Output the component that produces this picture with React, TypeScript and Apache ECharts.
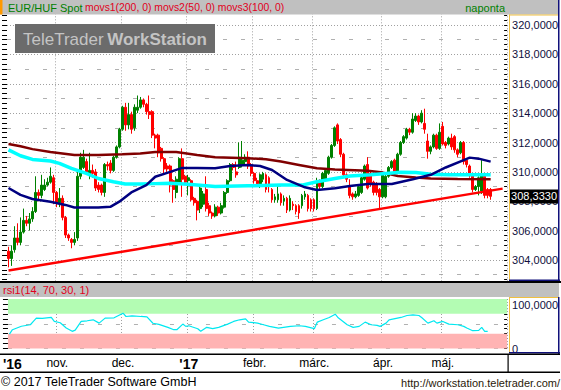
import React, { useEffect, useRef } from 'react';
import * as echarts from 'echarts';

// ---------- data ----------
const startDate = '2016-10-10';
const dayCount = 167;

const monthLabels: [string, string, boolean][] = [
  ['2016-10-11', "'16", true],
  ['2016-11-01', 'nov.', false],
  ['2016-12-01', 'dec.', false],
  ['2017-01-02', "'17", true],
  ['2017-02-01', 'febr.', false],
  ['2017-03-01', 'márc.', false],
  ['2017-04-03', 'ápr.', false],
  ['2017-05-01', 'máj.', false],
];
const gridLineDates = ['2016-11-01', '2016-12-01', '2017-01-02', '2017-02-01', '2017-03-01', '2017-04-03', '2017-05-01'];

// [open, close, low, high]
const candles: number[][] = [
  [304.6, 304.1, 303.5, 304.9], [304.1, 304.6, 303.6, 305.0], [304.7, 305.5, 304.5, 306.3], [305.5, 305.2, 305.0, 306.5],
  [305.2, 305.9, 305.0, 306.9], [305.9, 306.7, 305.8, 307.5], [306.7, 306.5, 306.3, 307.0], [306.5, 306.8, 306.0, 307.2],
  [306.8, 307.3, 306.6, 307.6], [307.3, 308.6, 307.2, 309.7], [308.6, 308.4, 308.0, 308.8], [308.4, 309.1, 308.2, 309.8],
  [308.8, 309.1, 308.7, 309.5], [309.1, 309.3, 309.0, 309.6], [309.3, 309.7, 309.2, 310.3], [309.6, 308.6, 307.8, 309.8],
  [308.6, 307.9, 307.6, 308.7], [307.9, 308.2, 307.6, 308.9], [308.2, 306.9, 306.7, 308.4], [306.9, 305.7, 305.5, 307.0],
  [305.7, 305.5, 305.3, 305.8], [305.4, 305.2, 304.8, 305.5], [305.2, 305.4, 305.0, 305.9], [305.5, 309.7, 305.3, 310.0],
  [309.7, 311.0, 309.5, 311.3], [310.3, 311.0, 310.2, 311.5], [310.7, 310.0, 309.8, 310.9], [309.8, 310.1, 309.5, 311.3],
  [310.1, 309.9, 309.6, 310.5], [310.0, 308.9, 308.7, 310.2], [309.1, 308.8, 308.6, 309.3], [309.1, 308.6, 308.4, 309.2],
  [308.6, 310.5, 308.3, 310.6], [310.5, 310.4, 310.1, 310.7], [310.6, 310.1, 309.9, 310.8], [310.1, 311.0, 310.0, 311.1],
  [311.0, 311.7, 310.9, 311.8], [311.7, 312.9, 311.6, 313.0], [312.9, 314.4, 312.8, 314.5], [314.4, 313.2, 312.8, 314.7],
  [313.2, 313.9, 312.9, 314.7], [313.9, 312.9, 312.6, 314.1], [313.0, 314.4, 312.8, 314.6], [314.2, 314.4, 314.0, 315.2],
  [314.4, 314.9, 314.3, 315.1], [314.9, 314.6, 314.4, 315.0], [314.6, 314.1, 313.9, 314.7], [314.1, 313.9, 313.6, 315.2],
  [314.1, 312.5, 312.3, 314.2], [312.5, 312.3, 311.6, 312.6], [312.5, 311.3, 311.0, 312.6], [311.6, 310.9, 310.7, 311.7],
  [310.9, 310.2, 309.9, 311.0], [310.4, 310.2, 310.0, 310.6], [310.4, 309.1, 308.6, 310.5], [309.4, 308.8, 307.9, 309.5],
  [308.6, 309.5, 308.2, 309.7], [309.3, 310.9, 309.2, 311.0], [310.9, 309.5, 308.3, 311.6], [309.7, 309.3, 309.1, 309.8],
  [309.4, 309.6, 308.4, 309.8], [309.4, 308.1, 308.0, 309.5], [308.2, 307.9, 307.7, 308.3], [308.0, 307.4, 306.7, 308.1],
  [307.5, 308.9, 307.2, 309.0], [307.8, 308.5, 307.6, 308.7], [308.8, 307.5, 307.3, 309.7], [307.7, 307.2, 307.0, 307.9],
  [307.2, 307.0, 306.8, 307.3], [307.0, 307.6, 306.9, 307.8], [307.6, 307.2, 307.0, 307.7], [307.2, 307.7, 307.1, 307.9],
  [307.6, 308.6, 307.5, 308.7], [308.6, 309.4, 308.5, 309.5], [309.4, 310.5, 309.3, 310.6], [310.5, 310.3, 310.1, 310.6],
  [310.0, 309.8, 309.6, 310.7], [310.3, 311.0, 310.2, 312.0], [310.5, 310.8, 310.3, 312.1], [310.7, 311.0, 310.5, 311.2],
  [311.0, 310.4, 310.2, 311.4], [310.5, 309.9, 309.7, 310.6], [309.9, 309.4, 309.2, 310.0], [309.4, 309.2, 309.0, 309.6],
  [309.2, 309.8, 308.9, 309.9], [309.5, 309.9, 309.3, 310.0], [309.8, 308.8, 308.6, 309.9], [309.6, 309.0, 308.6, 309.7],
  [308.8, 308.1, 307.9, 308.9], [308.1, 308.3, 307.9, 308.5], [308.1, 308.5, 307.9, 309.0], [308.5, 307.9, 307.7, 308.6],
  [308.0, 308.2, 307.7, 308.4], [308.2, 307.4, 307.2, 308.3], [307.4, 308.2, 307.3, 308.4], [307.8, 307.7, 307.4, 308.0],
  [307.7, 307.3, 307.1, 307.8], [307.7, 307.2, 306.8, 307.8], [307.7, 308.4, 307.5, 308.5], [308.3, 308.5, 308.1, 308.7],
  [308.4, 307.5, 307.3, 308.5], [308.1, 307.5, 307.3, 308.2], [308.1, 307.5, 307.3, 308.2], [307.5, 309.4, 307.4, 309.6],
  [309.4, 309.0, 308.8, 309.5], [309.0, 309.9, 308.9, 310.0], [309.5, 310.1, 309.4, 310.2], [309.9, 311.0, 309.8, 311.1],
  [311.0, 311.8, 310.9, 311.9], [311.8, 313.0, 311.7, 313.1], [313.2, 312.1, 311.9, 313.3], [312.2, 311.2, 311.0, 312.3],
  [311.2, 309.8, 309.6, 311.3], [309.8, 309.5, 309.3, 309.9], [309.0, 308.4, 308.2, 309.5], [308.5, 308.3, 308.1, 308.6],
  [308.3, 308.5, 308.2, 308.7], [308.4, 309.0, 308.3, 309.1], [308.6, 309.6, 308.5, 309.7], [309.5, 310.4, 309.4, 310.5],
  [310.5, 308.9, 308.8, 311.0], [309.9, 309.2, 309.0, 310.0], [309.3, 308.6, 308.4, 309.4], [309.2, 308.6, 308.4, 309.3],
  [308.8, 308.3, 307.5, 308.9], [308.3, 309.9, 308.2, 310.0], [308.3, 309.7, 308.2, 309.8], [309.7, 310.3, 309.6, 310.4],
  [310.3, 310.7, 310.2, 310.8], [310.8, 310.0, 309.9, 310.9], [310.0, 311.2, 309.9, 311.3], [311.2, 312.0, 311.1, 312.1],
  [312.0, 312.4, 311.9, 312.5], [312.3, 312.9, 312.2, 313.0], [312.9, 312.7, 312.5, 313.0], [312.7, 313.6, 312.6, 314.0],
  [313.5, 313.8, 313.4, 314.0], [313.8, 313.4, 313.2, 313.9], [313.4, 314.0, 313.3, 314.2], [313.3, 312.9, 312.6, 314.3],
  [312.1, 311.4, 310.9, 312.6], [311.4, 311.7, 311.2, 311.8], [311.7, 312.5, 311.6, 312.6], [312.5, 311.6, 311.5, 312.6],
  [311.6, 312.7, 311.5, 313.3], [313.1, 311.9, 311.8, 313.4], [312.0, 311.8, 311.6, 312.1], [311.9, 312.3, 311.8, 312.4],
  [312.3, 311.7, 311.5, 312.6], [312.4, 311.5, 311.3, 312.5], [311.5, 311.2, 311.0, 311.6], [311.3, 312.0, 311.2, 312.1],
  [312.0, 310.7, 310.5, 312.1], [310.8, 310.5, 310.3, 310.9], [310.4, 309.8, 309.6, 310.5], [309.8, 308.8, 308.6, 309.9],
  [308.8, 309.0, 308.7, 309.1], [309.0, 309.6, 308.4, 309.7], [308.7, 309.8, 308.5, 310.8], [309.7, 308.4, 308.2, 309.8],
  [308.8, 308.4, 308.2, 308.9], [308.8, 308.333, 308.1, 308.9],
];

// moving averages as [day index, value]
const ma200: number[][] = [
  [0, 311.9], [4, 311.75], [8, 311.55], [14, 311.35], [22, 311.15], [30, 311.15], [38, 311.2], [44, 311.25],
  [49, 311.35], [56, 311.35], [63, 311.15], [69, 311.0], [80, 310.93], [86, 310.86], [91, 310.7], [97, 310.47],
  [103, 310.24], [109, 310.17], [120, 310.08], [125, 309.95], [130, 309.72], [136, 309.62], [141, 309.55], [150, 309.52], [161, 309.5],
];
const ma50: number[][] = [
  [0, 308.9], [4, 308.43], [8, 308.15], [14, 307.97], [19, 307.75], [22, 307.57], [30, 307.57], [34, 307.62],
  [37, 307.97], [41, 308.6], [46, 309.1], [49, 309.67], [54, 310.0], [58, 310.27], [63, 310.27], [69, 310.25],
  [74, 310.4], [80, 310.47], [84, 310.4], [88, 310.13], [93, 309.45], [99, 308.95], [103, 308.77], [109, 308.88],
  [114, 309.04], [120, 309.18], [128, 309.18], [135, 309.5], [141, 309.8], [146, 310.3], [152, 310.8], [154, 310.97],
  [157, 310.9], [161, 310.7],
];
const ma100: number[][] = [
  [0, 311.5], [4, 311.1], [8, 310.85], [14, 310.74], [17, 310.58], [21, 310.24], [26, 309.9], [30, 309.55],
  [35, 309.33], [39, 309.18], [44, 309.18], [49, 309.2], [54, 309.22], [60, 309.15], [63, 309.1], [69, 309.0],
  [80, 309.05], [91, 309.1], [98, 309.1], [103, 309.33], [109, 309.55], [114, 309.72], [121, 309.8], [131, 309.97],
  [136, 309.95], [141, 309.84], [147, 309.8], [161, 309.8],
];
const trendLine: number[][] = [[0, 303.28], [165, 308.86]];

const rsi: number[][] = [
  [0, 29], [1, 38], [4, 45], [7, 48], [8, 54.7], [9, 61.3], [11, 61], [14, 63], [15, 54.7], [17, 52], [19, 41.3],
  [21, 34.7], [22, 37], [24, 54.7], [26, 56], [28, 58], [30, 51.3], [32, 61.3], [35, 62], [38, 71.3], [39, 64.7],
  [41, 66], [44, 64.7], [46, 64], [48, 51], [50, 48.7], [53, 42.7], [55, 38], [56, 38], [58, 49.3], [59, 44.7],
  [60, 46], [63, 40], [64, 34.7], [66, 42.7], [68, 40], [70, 42.7], [73, 49.3], [75, 54.7], [77, 58], [79, 60],
  [80, 53.3], [83, 51.3], [85, 48], [87, 44.7], [90, 41.3], [94, 44.7], [97, 46], [99, 44.7], [102, 40], [103, 53.3],
  [105, 58], [107, 62.7], [109, 69.3], [110, 62], [113, 48], [115, 42.7], [117, 44.7], [119, 53.3], [121, 48],
  [123, 46.7], [124, 44.7], [126, 51.3], [127, 58], [131, 62.7], [133, 66.7], [135, 68], [137, 66.7], [138, 62],
  [140, 51.3], [142, 56], [143, 51.3], [145, 54.7], [147, 49.3], [150, 48], [152, 44.7], [153, 41.3], [155, 36],
  [157, 36.7], [158, 42.7], [159, 34.7], [160, 34.7],
];
const rsiLevels = { low: 30, high: 70 };
const priceAxis = { min: 302, max: 321, step: 2 };
const rsiAxis = { min: 0, max: 100, step: 50 };

// ---------- helpers ----------
const FONT = "'Liberation Sans', Arial, sans-serif";

function makeDates(start: string, n: number): string[] {
  const out: string[] = [];
  const d = new Date(start + 'T00:00:00Z');
  while (out.length < n) {
    const wd = d.getUTCDay();
    if (wd !== 0 && wd !== 6) out.push(d.toISOString().slice(0, 10));
    d.setUTCDate(d.getUTCDate() + 1);
  }
  return out;
}
const fmtPrice = (v: number) => v.toFixed(4).replace('.', ',');

function text(x: number, y: number, t: string, fill: string, font: string, align = 'left') {
  return {
    type: 'text', x, y, z: 101,
    style: { text: t, fill, font, align, verticalAlign: 'middle', textAlign: align, textVerticalAlign: 'middle' },
  };
}
function rect(x: number, y: number, w: number, h: number, fill: string, z = 100) {
  return { type: 'rect', z, shape: { x, y, width: w, height: h }, style: { fill } };
}

function buildOption() {
  const dates = makeDates(startDate, dayCount);
  const labelMap: Record<string, [string, boolean]> = {};
  monthLabels.forEach(([d, l, b]) => (labelMap[d] = [l, b]));
  const isGrid = (_i: number, v: string) => gridLineDates.includes(v);
  const isLabel = (_i: number, v: string) => v in labelMap;
  const lastClose = candles[candles.length - 1][1];
  const dotted = { color: '#a0a0a0', type: [1, 2], width: 1 };
  const yTop = 10.3125;
  const pxPerUnit = 14.6875;

  return {
    animation: false,
    backgroundColor: '#ffffff',
    textStyle: { fontFamily: FONT },
    grid: [
      { left: 7, right: 53, top: yTop, height: (priceAxis.max - priceAxis.min) * pxPerUnit },
      { left: 7, right: 53, top: 299, height: 49.5 },
      { left: 7, right: 53, top: yTop, height: (priceAxis.max - 303) * pxPerUnit },
    ],
    xAxis: [
      {
        type: 'category', gridIndex: 0, data: dates, boundaryGap: true,
        axisLine: { show: false }, axisTick: { show: false }, axisLabel: { show: false },
        splitLine: { show: true, interval: isGrid, lineStyle: dotted },
      },
      {
        type: 'category', gridIndex: 1, data: dates, boundaryGap: true,
        axisLine: { show: false }, axisTick: { show: false },
        axisLabel: {
          show: true, interval: isLabel, margin: 8,
          formatter: (v: string) => {
            const e = labelMap[v];
            if (!e) return '';
            return e[1] ? `{b|${e[0]}}` : `{n|${e[0]}}`;
          },
          rich: {
            b: { fontSize: 14, fontWeight: 'bold', color: '#000', fontFamily: FONT },
            n: { fontSize: 12, color: '#000', fontFamily: FONT },
          },
        },
        splitLine: { show: true, interval: isGrid, lineStyle: dotted },
      },
      { type: 'value', gridIndex: 2, show: false, min: 0, max: 1 },
    ],
    yAxis: [
      {
        type: 'value', gridIndex: 0, position: 'right', min: priceAxis.min, max: priceAxis.max, interval: priceAxis.step,
        axisLine: { show: false },
        axisTick: { show: true, inside: true, length: 3, lineStyle: { color: '#000' } },
        minorTick: { show: true, splitNumber: 6, length: 3, lineStyle: { color: '#000' } },
        axisLabel: {
          margin: 5, color: '#101040', fontSize: 11, fontFamily: FONT,
          formatter: (v: number) => (v <= priceAxis.min || v >= priceAxis.max ? '' : fmtPrice(v)),
        },
        splitLine: { show: true, lineStyle: dotted },
      },
      {
        type: 'value', gridIndex: 0, position: 'left', min: priceAxis.min, max: priceAxis.max, interval: priceAxis.step,
        axisLine: { show: false },
        axisTick: { show: true, length: 5, lineStyle: { color: '#000' } },
        minorTick: { show: true, splitNumber: 6, length: 5, lineStyle: { color: '#000' } },
        axisLabel: { show: false }, splitLine: { show: false },
      },
      {
        type: 'value', gridIndex: 1, position: 'right', min: rsiAxis.min, max: rsiAxis.max, interval: rsiAxis.step,
        axisLine: { show: false },
        axisTick: { show: true, inside: true, length: 3, lineStyle: { color: '#000' } },
        minorTick: { show: true, splitNumber: 5, length: 3, lineStyle: { color: '#000' } },
        axisLabel: {
          margin: 5, color: '#101040', fontSize: 11, fontFamily: FONT,
          verticalAlignMaxLabel: 'top',
          formatter: (v: number) => (v === rsiAxis.max ? fmtPrice(v) : v === rsiAxis.min ? '0' : ''),
        },
        splitLine: { show: true, lineStyle: { color: '#b0b0b0', type: [4, 14], width: 1 } },
      },
      {
        type: 'value', gridIndex: 1, position: 'left', min: rsiAxis.min, max: rsiAxis.max, interval: rsiAxis.step,
        axisLine: { show: false },
        axisTick: { show: true, length: 5, lineStyle: { color: '#000' } },
        minorTick: { show: true, splitNumber: 5, length: 5, lineStyle: { color: '#000' } },
        axisLabel: { show: false }, splitLine: { show: false },
      },
      {
        type: 'value', gridIndex: 2, min: 303, max: priceAxis.max, interval: 2,
        axisLine: { show: false }, axisTick: { show: false }, axisLabel: { show: false },
        splitLine: { show: true, lineStyle: { color: '#b0b0b0', type: [4, 14], width: 1 } },
      },
    ],
    series: [
      {
        type: 'candlestick', xAxisIndex: 0, yAxisIndex: 0, data: candles, barWidth: 2.4, clip: false, z: 2,
        itemStyle: { color: '#008000', color0: '#ff0000', borderColor: '#008000', borderColor0: '#ff0000', borderWidth: 1 },
        markLine: {
          silent: true, symbol: ['none', 'none'], z: 20,
          data: [{ yAxis: lastClose }],
          lineStyle: { color: 'rgba(0,0,0,0)', width: 0 },
          label: {
            show: true, position: 'end', distance: 2, formatter: fmtPrice(lastClose),
            color: '#ffffff', backgroundColor: '#000000', padding: [2, 2, 1, 2], fontSize: 11, fontFamily: FONT,
          },
        },
      },
      { type: 'line', xAxisIndex: 0, yAxisIndex: 0, data: ma200, showSymbol: false, z: 3, lineStyle: { color: '#800000', width: 2.5 } },
      { type: 'line', xAxisIndex: 0, yAxisIndex: 0, data: ma100, showSymbol: false, z: 3, lineStyle: { color: '#00ffff', width: 3.5 } },
      { type: 'line', xAxisIndex: 0, yAxisIndex: 0, data: ma50, showSymbol: false, z: 3, lineStyle: { color: '#000080', width: 2.5 } },
      { type: 'line', xAxisIndex: 0, yAxisIndex: 0, data: trendLine, showSymbol: false, z: 4, lineStyle: { color: '#ff0000', width: 2.5 } },
      {
        type: 'line', xAxisIndex: 1, yAxisIndex: 2, data: rsi, showSymbol: false, z: 3,
        lineStyle: { color: '#00e8f0', width: 1.2 },
        markArea: {
          silent: true,
          data: [
            [{ yAxis: rsiLevels.high, itemStyle: { color: '#b3fcb3' } }, { yAxis: rsiAxis.max }],
            [{ yAxis: rsiAxis.min, itemStyle: { color: '#ffb3b3' } }, { yAxis: rsiLevels.low }],
          ],
        },
      },
    ],
    graphic: {
      elements: [
        rect(0, 0, 559, 14.5, '#c0c0c0'),
        rect(0, 0, 2.5, 14.5, '#ff9900'),
        text(8, 7.5, 'EUR/HUF Spot', '#008000', `11px ${FONT}`),
        text(85, 7.5, 'movs1(200, 0) movs2(50, 0) movs3(100, 0)', '#e00020', `10.4px ${FONT}`),
        text(505, 7.5, 'naponta', '#008000', `11px ${FONT}`, 'right'),
        rect(15, 24, 200, 29, '#6b6b6b', 90),
        text(23, 39, 'TeleTrader', '#c4c4c4', `17px ${FONT}`),
        text(207, 39, 'WorkStation', '#c4c4c4', `bold 17px ${FONT}`, 'right'),
        // main axis box
        rect(509, 14.5, 1, 266, '#f0c040'),
        rect(509, 14.5, 50, 1, '#f0c040'),
        rect(558, 0, 1.5, 281, '#10107a'),
        rect(509, 279.5, 51, 1.5, '#10107a'),
        // separator + rsi header
        rect(0, 281, 561, 2, '#000000'),
        rect(0, 283, 559, 14, '#c0c0c0'),
        text(3, 290, 'rsi1(14, 70, 30, 1)', '#e00020', `11px ${FONT}`),
        // rsi axis box
        rect(509, 297, 1, 56, '#f0c040'),
        rect(509, 297, 50, 1, '#f0c040'),
        rect(558, 297, 1.5, 57, '#10107a'),
        rect(509, 352, 51, 1.5, '#10107a'),
        // date strip
        rect(0, 353.5, 560, 1.5, '#000000'),
        rect(507.5, 355, 1.2, 17, '#000000'),
        rect(0, 371.5, 560, 1.5, '#000000'),
        text(1, 382, '\u00a9 2017 TeleTrader Software GmbH', '#000000', `12.5px ${FONT}`),
        text(560, 383, 'http://workstation.teletrader.com/', '#2a1a0a', `11px ${FONT}`, 'right'),
      ],
    },
  };
}

export default function App() {
  const ref = useRef<HTMLDivElement>(null);
  useEffect(() => {
    document.body.style.margin = '0';
    const chart = echarts.init(ref.current as HTMLDivElement, undefined, { renderer: 'svg' });
    chart.setOption(buildOption() as any);
    return () => chart.dispose();
  }, []);
  return <div ref={ref} style={{ width: 561, height: 390, position: 'absolute', left: 0, top: 0 }} />;
}
